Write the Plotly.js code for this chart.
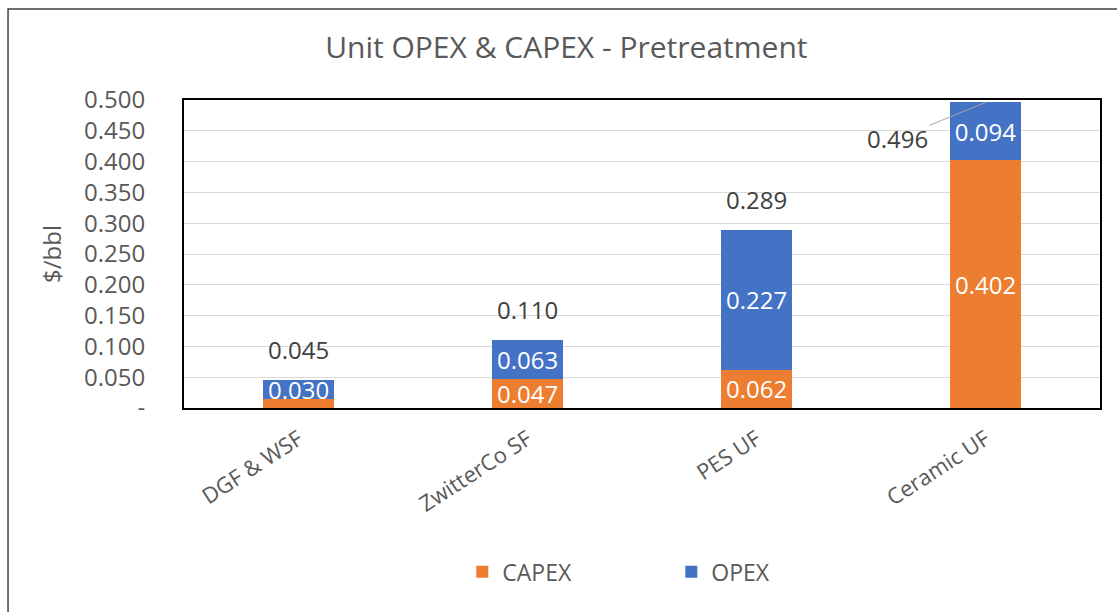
<!DOCTYPE html>
<html>
<head>
<meta charset="utf-8">
<script src="https://cdn.plot.ly/plotly-3.0.1.min.js"></script>
<style>
html,body{margin:0;padding:0;background:#fff;}
#chart{width:1117px;height:612px;}
</style>
</head>
<body>
<div id="chart"></div>
<script>
var categories = ["DGF & WSF", "ZwitterCo SF", "PES UF", "Ceramic UF"];
var capex = [0.015, 0.047, 0.062, 0.402];
var opex = [0.030, 0.063, 0.227, 0.094];
var totals = [0.045, 0.110, 0.289, 0.496];
var tickVals = [0, 0.05, 0.10, 0.15, 0.20, 0.25, 0.30, 0.35, 0.40, 0.45, 0.50];
var tickText = ["-", "0.050", "0.100", "0.150", "0.200", "0.250", "0.300", "0.350", "0.400", "0.450", "0.500"];

var FONT = "Open Sans, Segoe UI, sans-serif";
function lbl(arr){ return arr.map(function(v){ return v < 0.02 ? "" : v.toFixed(3); }); }

var traces = [
  {type:"bar", name:"CAPEX", x:categories, y:capex, marker:{color:"#ED7D31"},
   text:lbl(capex), textposition:"inside", insidetextanchor:"middle", constraintext:"none",
   textfont:{color:"#ffffff", size:24, family:FONT}, width:0.31, hoverinfo:"none"},
  {type:"bar", name:"OPEX", x:categories, y:opex, marker:{color:"#4472C4"},
   text:lbl(opex), textposition:"inside", insidetextanchor:"middle", constraintext:"none",
   textfont:{color:"#ffffff", size:24, family:FONT}, width:0.31, hoverinfo:"none"}
];

var annotations = [];
for (var i = 0; i < categories.length; i++) {
  if (i === categories.length - 1) {
    annotations.push({x:categories[i], y:totals[i], xref:"x", yref:"y",
      text:totals[i].toFixed(3), showarrow:true, arrowhead:0, arrowwidth:1, arrowcolor:"#a6a6a6",
      ax:-88, ay:36, font:{size:24, color:"#404040", family:FONT}});
  } else {
    annotations.push({x:categories[i], y:totals[i], xref:"x", yref:"y",
      text:totals[i].toFixed(3), showarrow:false, yanchor:"bottom", yshift:12,
      font:{size:24, color:"#404040", family:FONT}});
  }
}

var layout = {
  width:1117, height:612,
  margin:{l:184, r:17, t:100, b:204},
  paper_bgcolor:"#ffffff", plot_bgcolor:"#ffffff",
  barmode:"stack",
  font:{family:FONT, color:"#595959"},
  title:{text:"Unit OPEX & CAPEX - Pretreatment", x:0.507, xref:"container", xanchor:"center",
         y:0.923, yref:"container", yanchor:"middle",
         font:{size:30, color:"#595959", family:"Open Sans, sans-serif"}},
  xaxis:{type:"category", showgrid:false, showline:true, linecolor:"#000000", linewidth:2, mirror:true,
         tickangle:-33, tickfont:{size:22, color:"#595959", family:FONT}, ticks:"", ticklabelstandoff:8},
  yaxis:{range:[0,0.5], tickvals:tickVals, ticktext:tickText, showgrid:true, gridcolor:"#d9d9d9", gridwidth:1,
         showline:true, linecolor:"#000000", linewidth:2, mirror:true, zeroline:false,
         tickfont:{size:24, color:"#595959", family:FONT}, ticks:"", ticklabelstandoff:32,
         title:{text:"$/bbl", font:{size:24, color:"#595959", family:FONT}, standoff:16}},
  showlegend:true,
  legend:{orientation:"h", x:0.532, xanchor:"center", xref:"paper", y:-0.532, yanchor:"middle",
          font:{size:23, color:"#595959", family:FONT}, entrywidth:164, itemwidth:30,
          traceorder:"normal"},
  annotations:annotations,
  shapes:[{type:"rect", xref:"paper", yref:"paper", x0:-0.1921, x1:1.2, y0:-1.2, y1:1.2955,
           line:{color:"#404040", width:1.5}, fillcolor:"rgba(0,0,0,0)", layer:"above"}]
};

Plotly.newPlot("chart", traces, layout, {displayModeBar:false, staticPlot:true});
</script>
</body>
</html>
